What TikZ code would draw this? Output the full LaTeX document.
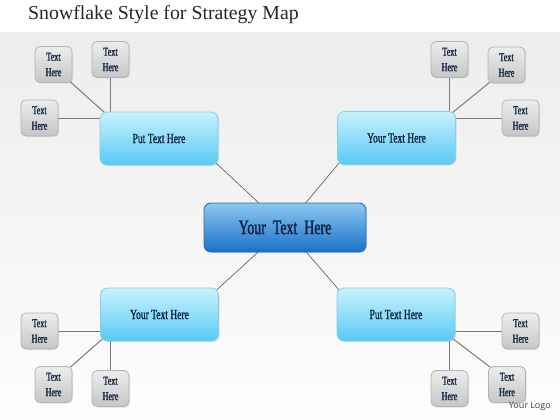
\documentclass[tikz,border=0pt]{standalone}
\usepackage{fontspec}
\setmainfont{Liberation Serif}
\newfontfamily\condfont[FakeStretch=0.68, FakeBold=1.3]{Liberation Serif}
\newfontfamily\logofont{Open Sans}
\usetikzlibrary{shadows,calc}
\pgfdeclarelayer{bgl}
\pgfdeclarelayer{lnl}
\pgfsetlayers{bgl,lnl,main}
\definecolor{bgtop}{HTML}{EDEDED}
\definecolor{bgbot}{HTML}{FDFDFD}
\definecolor{sattop}{HTML}{C8F2FD}
\definecolor{satbot}{HTML}{58CAF4}
\definecolor{satborder}{HTML}{86CDE9}
\definecolor{ctop}{HTML}{8CC8F2}
\definecolor{cbot}{HTML}{1A70C6}
\definecolor{cborder}{HTML}{2B6CAE}
\definecolor{smtop}{HTML}{EDEDED}
\definecolor{smbot}{HTML}{C6C6C6}
\definecolor{smborder}{HTML}{B3B3B3}
\definecolor{navytext}{HTML}{102442}
\definecolor{linkgray}{HTML}{7A7A7A}
\definecolor{cgray}{HTML}{555555}
\begin{document}
\begin{tikzpicture}[x=1pt,y=-1pt,
  satbox/.style={draw=satborder, line width=0.8pt, rounded corners=7pt,
    minimum width=118pt, minimum height=53pt, inner sep=0pt,
    top color=sattop, bottom color=satbot, text=navytext,
    font=\condfont\fontsize{14}{16}\selectfont,
    drop shadow={shadow xshift=1pt, shadow yshift=-1pt, opacity=0.2}},
  cenbox/.style={draw=cborder, line width=0.9pt, rounded corners=7pt,
    minimum width=162pt, minimum height=49pt, inner sep=0pt,
    top color=ctop, bottom color=cbot, text=navytext,
    font=\condfont\fontsize{20.5}{22}\selectfont,
    drop shadow={shadow xshift=1pt, shadow yshift=-1pt, opacity=0.25}},
  smbox/.style={draw=smborder, line width=0.8pt, rounded corners=5pt,
    minimum width=37pt, minimum height=36pt, inner sep=0pt, align=center,
    top color=smtop, bottom color=smbot, text=navytext,
    font=\condfont\fontsize{12}{15.5}\selectfont,
    drop shadow={shadow xshift=1pt, shadow yshift=-1pt, opacity=0.2}},
  sl/.style={draw=linkgray, line width=1pt},
  cl/.style={draw=cgray, line width=0.6pt}]
\useasboundingbox (0,0) rectangle (560,420);
\begin{pgfonlayer}{bgl}
  \fill[white] (0,0) rectangle (560,420);
  \shade[top color=bgtop, bottom color=bgbot] (0,33) rectangle (560,420);
\end{pgfonlayer}

\node[anchor=west, font=\fontsize{19.8}{22}\selectfont, text=black!85, inner sep=0pt] (title) at (28,15) {Snowflake Style for Strategy Map};

\node[cenbox] (c) at (285,227.5) {Your\, Text\, Here};
\node[satbox] (m1) at (159,138.5) {Put Text Here};
\node[satbox] (m2) at (396.5,138) {Your Text Here};
\node[satbox] (m3) at (159.5,314.5) {Your Text Here};
\node[satbox] (m4) at (396,314.5) {Put Text Here};

\node[smbox] (a1) at (53.5,64.5) {Text\\Here};
\node[smbox] (a2) at (110.5,59.5) {Text\\Here};
\node[smbox] (a3) at (39.5,118) {Text\\Here};
\node[smbox] (b1) at (449.5,59.5) {Text\\Here};
\node[smbox] (b2) at (506.5,65) {Text\\Here};
\node[smbox] (b3) at (520.5,118) {Text\\Here};
\node[smbox] (d1) at (39.5,331) {Text\\Here};
\node[smbox] (d2) at (53.5,384.5) {Text\\Here};
\node[smbox] (d3) at (110.5,388.5) {Text\\Here};
\node[smbox] (e1) at (520.5,331) {Text\\Here};
\node[smbox] (e2) at (507,384.5) {Text\\Here};
\node[smbox] (e3) at (449.5,388.5) {Text\\Here};

\node[anchor=east, font=\logofont\fontsize{9}{10}\selectfont, text=black!75, inner sep=0pt] (logo) at (551,406) {Your Logo};

\begin{pgfonlayer}{lnl}
  % center links
  \draw[cl] ([shift={(-3,-3)}]m1.south east) -- (c.center);
  \draw[cl] ([shift={(3,-3)}]m2.south west) -- (c.center);
  \draw[cl] ([shift={(-3,3)}]m3.north east) -- (c.center);
  \draw[cl] ([shift={(3,3)}]m4.north west) -- (c.center);
  % top left
  \draw[sl] (a2.south) -- (a2.south |- m1.north);
  \draw[sl] (a3.east) -- (a3.east -| m1.west);
  \draw[sl] ([shift={(-2,-1)}]a1.south east) -- ([shift={(5,1)}]m1.north west);
  % top right
  \draw[sl] (b1.south) -- (b1.south |- m2.north);
  \draw[sl] (b3.west) -- (b3.west -| m2.east);
  \draw[sl] ([shift={(2,-1)}]b2.south west) -- ([shift={(-4,2)}]m2.north east);
  % bottom left
  \draw[sl] (d1.east) -- (d1.east -| m3.west);
  \draw[sl] (d3.north) -- (d3.north |- m3.south);
  \draw[sl] ([shift={(-2,1)}]d2.north east) -- ([shift={(3,-3)}]m3.south west);
  % bottom right
  \draw[sl] (e1.west) -- (e1.west -| m4.east);
  \draw[sl] (e3.north) -- (e3.north |- m4.south);
  \draw[sl] ([shift={(2,1)}]e2.north west) -- ([shift={(-3,-3)}]m4.south east);
\end{pgfonlayer}
\end{tikzpicture}
\end{document}
